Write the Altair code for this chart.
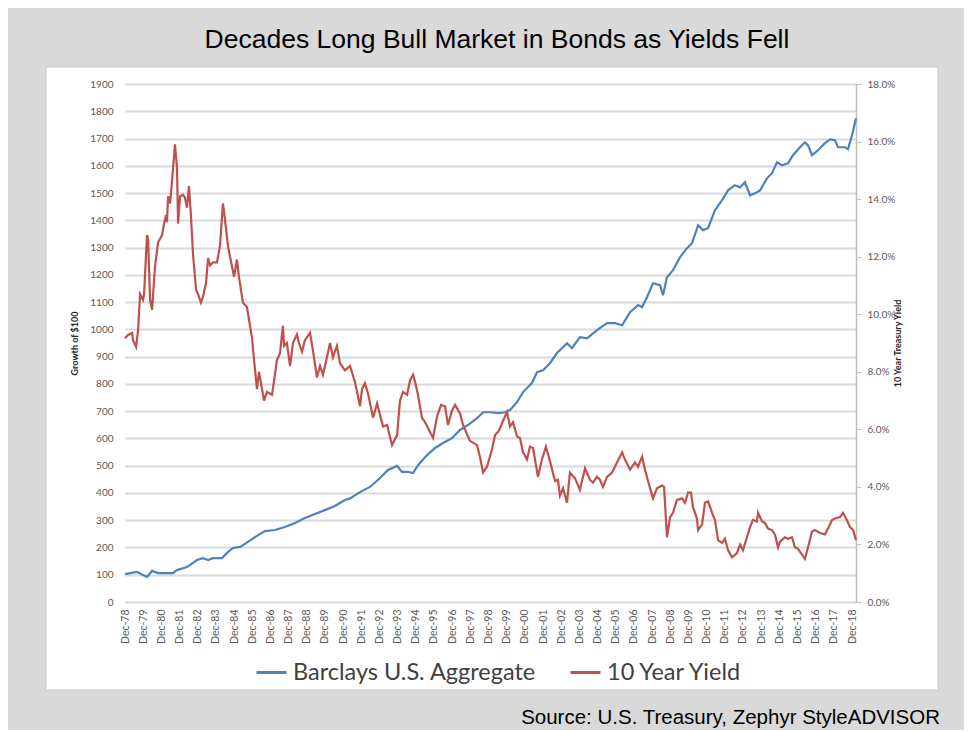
import altair as alt
import pandas as pd

# ---- data (t = years since Dec-78) ----
yield_t = [0.00, 0.17, 0.39, 0.44, 0.61, 0.72, 0.83, 0.99, 1.05, 1.21, 1.27, 1.38, 1.49, 1.65, 1.82,
           2.04, 2.15, 2.26, 2.31, 2.37, 2.48, 2.59, 2.75, 2.86, 2.92, 3.03, 3.19, 3.30, 3.41, 3.52,
           3.63, 3.74, 3.91, 4.02, 4.18, 4.29, 4.46, 4.57, 4.68, 4.84, 5.06, 5.23, 5.39, 5.50, 5.67,
           5.89, 6.00, 6.16, 6.27, 6.49, 6.71, 6.99, 7.04, 7.26, 7.37, 7.54, 7.65, 7.81, 8.09, 8.36,
           8.53, 8.69, 8.75, 8.91, 9.08, 9.24, 9.46, 9.57, 9.74, 9.90, 10.18, 10.34, 10.56, 10.73,
           10.89, 11.11, 11.28, 11.44, 11.66, 11.83, 12.10, 12.38, 12.65, 12.93, 13.04, 13.20, 13.37,
           13.65, 13.87, 14.03, 14.20, 14.42, 14.69, 14.97, 15.13, 15.30, 15.52, 15.68, 15.85, 15.96,
           16.12, 16.34, 16.51, 16.67, 16.95, 17.17, 17.39, 17.61, 17.77, 17.99, 18.16, 18.43, 18.60,
           18.98, 19.37, 19.53, 19.70, 19.92, 20.19, 20.36, 20.58, 20.80, 21.02, 21.18, 21.35, 21.57,
           21.73, 21.90, 22.12, 22.28, 22.45, 22.72, 22.94, 23.16, 23.38, 23.66, 23.82, 23.93, 24.10,
           24.32, 24.48, 24.76, 25.03, 25.31, 25.58, 25.75, 25.97, 26.13, 26.30, 26.52, 26.80, 27.07,
           27.35, 27.51, 27.79, 28.06, 28.23, 28.45, 28.61, 28.78, 29.05, 29.27, 29.55, 29.66, 29.82,
           29.99, 30.15, 30.37, 30.65, 30.81, 30.98, 31.14, 31.25, 31.47, 31.53, 31.75, 31.91, 32.08,
           32.30, 32.46, 32.63, 32.85, 33.01, 33.18, 33.40, 33.67, 33.84, 34.00, 34.22, 34.39, 34.55,
           34.77, 34.83, 35.05, 35.21, 35.38, 35.60, 35.76, 35.93, 36.04, 36.31, 36.48, 36.70, 36.86,
           37.03, 37.25, 37.41, 37.58, 37.80, 37.96, 38.24, 38.51, 38.68, 38.90, 39.06, 39.34, 39.50,
           39.72, 39.89, 40.06, 40.22]
yield_pct = [9.17, 9.28, 9.35, 9.10, 8.86, 9.45, 10.7, 10.5, 10.7, 12.75, 12.6, 10.5, 10.15, 11.65, 12.5,
             12.75, 13.15, 13.45, 13.2, 14.1, 13.85, 14.65, 15.9, 15.1, 13.15, 14.1, 14.15, 14.05, 13.7, 14.45,
             13.4, 12.1, 10.85, 10.7, 10.4, 10.6, 11.1, 11.95, 11.7, 11.8, 11.8, 12.4, 13.85, 13.3, 12.35,
             11.65, 11.3, 11.9, 11.3, 10.4, 10.25, 9.17, 8.8, 7.4, 8.0, 7.4, 7.0, 7.3, 7.2, 8.4,
             8.65, 9.6, 8.9, 9.0, 8.2, 9.0, 9.3, 9.0, 8.7, 9.1, 9.35, 8.75, 7.8, 8.2,
             7.9, 8.5, 9.0, 8.5, 8.9, 8.3, 8.05, 8.2, 7.65, 6.8, 7.4, 7.6, 7.25,
             6.4, 6.9, 6.5, 6.1, 6.15, 5.45, 5.8, 7.0, 7.3, 7.2, 7.7, 7.9, 7.65,
             7.2, 6.4, 6.25, 6.05, 5.7, 6.45, 6.85, 6.8, 6.15, 6.65, 6.85, 6.55, 6.15,
             5.6, 5.45, 5.05, 4.5, 4.7, 5.3, 5.8, 5.95, 6.3, 6.6, 6.1, 6.25, 5.75,
             5.7, 5.2, 4.95, 5.4, 5.35, 4.35, 4.95, 5.4, 4.9, 4.2, 4.25, 3.7, 3.95,
             3.45, 4.5, 4.3, 3.9, 4.65, 4.25, 4.15, 4.35, 4.25, 4.0, 4.35, 4.5, 4.85,
             5.2, 4.95, 4.6, 4.85, 4.7, 5.05, 4.6, 4.2, 3.6, 3.95, 4.05, 4.0, 2.25,
             2.95, 3.1, 3.55, 3.6, 3.45, 3.8, 3.8, 3.3, 2.9, 2.5, 2.7, 3.45, 3.5,
             3.1, 2.85, 2.15, 2.05, 2.2, 1.8, 1.55, 1.7, 2.0, 1.8, 2.25, 2.6, 2.85,
             2.8, 3.1, 2.8, 2.75, 2.55, 2.5, 2.35, 1.9, 2.1, 2.25, 2.2, 2.25, 1.9,
             1.85, 1.65, 1.5, 1.9, 2.45, 2.5, 2.4, 2.35, 2.55, 2.85, 2.9, 2.95, 3.1,
             2.85, 2.6, 2.5, 2.15]

agg_t = [0.00, 0.66, 1.21, 1.49, 1.82, 2.64, 2.86, 3.41, 3.96, 4.29, 4.57, 4.84, 5.34, 5.61, 5.94,
         6.33, 6.60, 7.15, 7.70, 8.25, 8.80, 9.35, 9.90, 10.45, 11.00, 11.55, 12.10, 12.38, 12.93,
         13.48, 14.03, 14.47, 14.97, 15.24, 15.57, 15.85, 16.12, 16.62, 17.06, 17.50, 17.99, 18.43,
         18.87, 19.37, 19.70, 20.08, 20.52, 20.91, 21.18, 21.57, 21.90, 22.39, 22.67, 23.00, 23.38,
         23.77, 24.32, 24.59, 25.03, 25.42, 25.97, 26.52, 26.96, 27.35, 27.79, 28.23, 28.45, 28.72,
         29.05, 29.44, 29.60, 29.82, 30.15, 30.54, 30.92, 31.20, 31.53, 31.80, 32.08, 32.46, 32.85,
         33.18, 33.56, 33.84, 34.11, 34.39, 34.66, 34.94, 35.32, 35.60, 35.87, 36.15, 36.48, 36.75,
         37.14, 37.41, 37.58, 37.80, 38.13, 38.51, 38.79, 39.06, 39.23, 39.61, 39.78, 40.00, 40.22]
agg_value = [102, 110, 92, 114, 106, 106, 117, 128, 154, 161, 154, 161, 161, 180, 198,
             202, 213, 238, 260, 264, 275, 290, 308, 323, 337, 352, 374, 380, 403,
             422, 455, 484, 499, 477, 477, 473, 502, 539, 565, 583, 601, 631,
             649, 674, 696, 696, 693, 696, 704, 733, 770, 803, 843, 850, 876,
             913, 949, 931, 971, 967, 997, 1023, 1023, 1015, 1063, 1089, 1081, 1118,
             1169, 1162, 1125, 1191, 1217, 1265, 1298, 1316, 1382, 1364, 1371, 1437, 1474,
             1510, 1529, 1521, 1540, 1492, 1499, 1510, 1554, 1573, 1613, 1602, 1609, 1639,
             1668, 1686, 1675, 1639, 1657, 1683, 1697, 1694, 1668, 1668, 1661, 1712, 1774]

series_names = ["Barclays U.S. Aggregate", "10 Year Yield"]
series_colors = ["#4f81bd", "#c0504d"]
left_ticks = list(range(0, 2000, 100))
right_ticks = list(range(0, 19, 2))
year_ticks = list(range(0, 41))

title_text = "Decades Long Bull Market in Bonds as Yields Fell"
source_text = "Source: U.S. Treasury, Zephyr StyleADVISOR"

agg_df = pd.DataFrame({"t": agg_t, "v": agg_value, "series": series_names[0]})
yld_df = pd.DataFrame({"t": yield_t, "v": yield_pct, "series": series_names[1]})
one = pd.DataFrame({"a": [0]})

W, H = 731, 518
GRAY = "#d9d9d9"

x_enc = alt.X(
    "t:Q",
    scale=alt.Scale(domain=[0, 40.22], nice=False, zero=False),
    axis=alt.Axis(
        values=year_ticks,
        labelExpr="'Dec-' + slice('0' + ((78 + datum.value) % 100), -2)",
        labelAngle=270, grid=False, ticks=False, domain=False,
        labelFontSize=10.5, labelColor="#595959", labelFont="Lato",
        labelPadding=7, title=None, labelOverlap=False,
    ),
)

color_enc = alt.Color(
    "series:N",
    scale=alt.Scale(domain=series_names, range=series_colors),
    legend=alt.Legend(
        orient="none", legendX=130, legendY=572, direction="horizontal",
        title=None, symbolType="stroke", symbolSize=900, symbolStrokeWidth=3,
        labelFontSize=23.5, labelFont="Lato", labelColor="#404040",
        columnPadding=28, labelOffset=5, labelLimit=400,
    ),
)

# gray surround (outside the white panel), drawn as four bands
def band(x1, x2, y1, y2):
    return alt.Chart(one).mark_rect(fill=GRAY, stroke=None).encode(
        x=alt.value(x1), x2=alt.value(x2), y=alt.value(y1), y2=alt.value(y2)
    )

bands = [
    band(-130, 900, -90, -17),   # top
    band(-130, 900, 606, 760),   # bottom
    band(-130, -79, -17, 606),   # left
    band(813, 900, -17, 606),    # right
]
panel_border = alt.Chart(one).mark_rect(fillOpacity=0, stroke="#c8c8c8", strokeWidth=1).encode(
    x=alt.value(-79), x2=alt.value(813), y=alt.value(-17), y2=alt.value(606)
)

blue = alt.Chart(agg_df).mark_line(strokeWidth=2.2).encode(
    x=x_enc,
    y=alt.Y(
        "v:Q",
        scale=alt.Scale(domain=[0, 1900], nice=False),
        axis=alt.Axis(
            values=left_ticks, format="d", grid=True, gridColor="#d9d9d9", gridWidth=2,
            domain=False, ticks=False, labelFontSize=10, labelColor="#595959",
            labelFont="Lato", labelPadding=12, title="Growth of $100",
            titleFontSize=9, titleFont="Lato", titleFontWeight="bold",
            titleColor="#262626", titlePadding=10,
        ),
    ),
    color=color_enc,
)

red = alt.Chart(yld_df).mark_line(strokeWidth=2.2).encode(
    x=x_enc,
    y=alt.Y(
        "v:Q",
        scale=alt.Scale(domain=[0, 18], nice=False),
        axis=alt.Axis(
            orient="right", values=right_ticks, grid=False,
            labelExpr="format(datum.value, '.1f') + '%'",
            domain=True, domainColor="#bfbfbf", domainWidth=1.5,
            ticks=True, tickColor="#bfbfbf", tickSize=5,
            labelFontSize=10, labelColor="#595959", labelFont="Lato", labelPadding=6,
            title="10 Year Treasury Yield", titleAngle=270, titleFontSize=9,
            titleFont="Lato", titleFontWeight="bold", titleColor="#262626", titlePadding=8,
        ),
    ),
    color=color_enc,
)

title = alt.Chart(one).mark_text(
    text=title_text, font="Liberation Sans", fontSize=26.5, color="black",
    align="center", baseline="middle",
).encode(x=alt.value(372), y=alt.value(-44))

source = alt.Chart(one).mark_text(
    text=source_text, font="Liberation Sans", fontSize=20.5, color="black",
    align="right", baseline="middle",
).encode(x=alt.value(815), y=alt.value(634))

chart = (
    alt.layer(*bands, panel_border, blue, red, title, source)
    .resolve_scale(y="independent")
    .properties(
        width=W, height=H,
        autosize=alt.AutoSizeParams(type="none"),
        padding={"left": 117, "top": 76, "right": 108, "bottom": 128},
        background="white",
    )
    .configure_view(stroke=None)
)

chart.save("out.html", embed_options={"renderer": "svg", "actions": False})
